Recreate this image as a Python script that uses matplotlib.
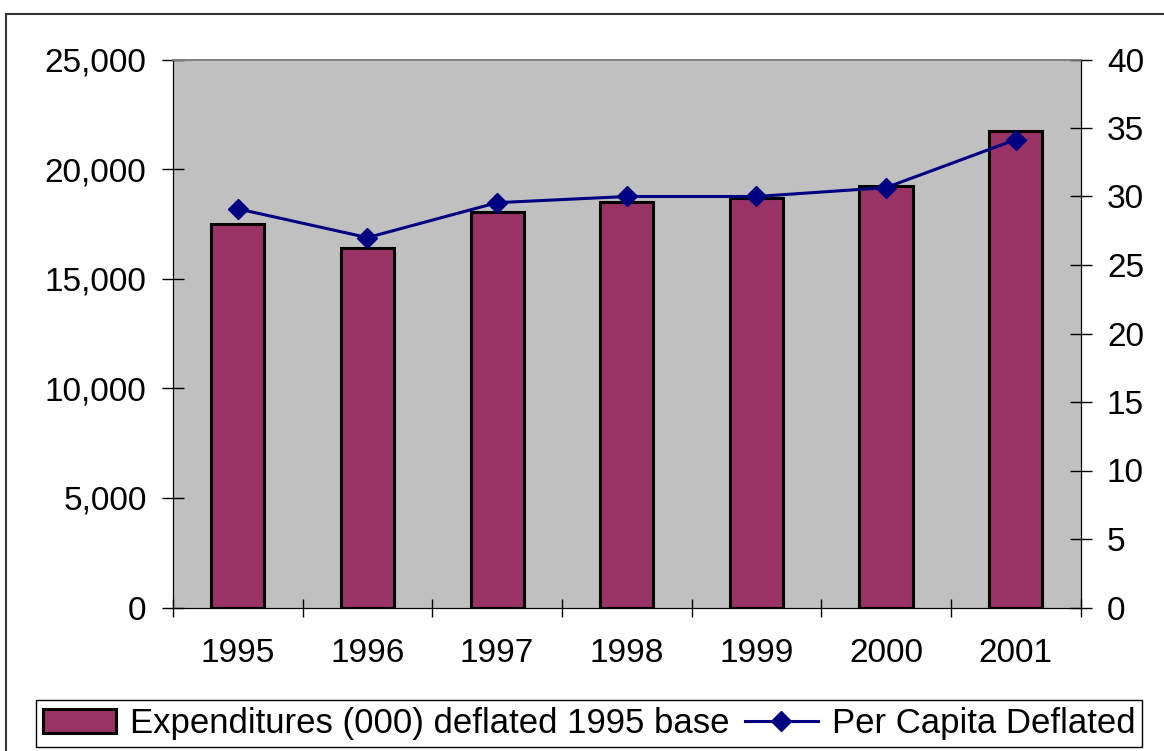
import matplotlib as mpl
import numpy as np
from matplotlib import pyplot as plt
from matplotlib.patches import Rectangle
from matplotlib.ticker import FixedLocator, StrMethodFormatter

years = ['1995', '1996', '1997', '1998', '1999', '2000', '2001']
expenditures = [17500, 16410, 18060, 18490, 18670, 19240, 21740]
per_capita = [29.1, 27.0, 29.55, 30.0, 30.0, 30.65, 34.15]

mpl.rcParams['font.family'] = ['Liberation Sans', 'DejaVu Sans']

fig = plt.figure(figsize=(11.64, 7.51), dpi=100)
ax = fig.add_axes([173/1164, 1 - 607.5/751, (1080.5 - 173)/1164, (607.5 - 59.5)/751])
ax.set_facecolor('#C0C0C0')

x = np.arange(len(years))
bars = ax.bar(x, expenditures, width=0.41, color='#993366', edgecolor='black',
              linewidth=2.2, label='Expenditures (000) deflated 1995 base', zorder=3)
ax.set_xlim(-0.5, len(years) - 0.5)
ax.set_ylim(0, 25000)
ax.set_yticks(np.arange(0, 25001, 5000))
ax.yaxis.set_major_formatter(StrMethodFormatter('{x:,.0f}'))
ax.tick_params(axis='y', direction='inout', length=16, width=1, labelsize=24, pad=11)

# year labels centered, ticks between the categories
ax.set_xticks(x)
ax.set_xticklabels(years)
ax.tick_params(axis='x', which='major', length=0, labelsize=24, pad=22)
ax.xaxis.set_minor_locator(FixedLocator(np.arange(-0.5, len(years), 1.0)))
ax.tick_params(axis='x', which='minor', direction='inout', length=13, width=1)

ax2 = ax.twinx()
line, = ax2.plot(x, per_capita, color='#000080', linewidth=2.2, marker='D',
                 markersize=10, label='Per Capita Deflated', zorder=4)
ax2.set_ylim(0, 40)
ax2.set_yticks(np.arange(0, 41, 5))
ax2.tick_params(axis='y', direction='inout', length=16, width=1, labelsize=24, pad=11)

for a in (ax, ax2):
    a.spines['left'].set_color('black')
    a.spines['right'].set_color('black')
    a.spines['bottom'].set_color('black')
    a.spines['top'].set_color('#808080')
    a.spines['top'].set_linewidth(1.2)

leg = fig.legend(handles=[bars, line], loc='center',
                 bbox_to_anchor=(589/1164, 1 - 723.5/751), ncol=2, fontsize=25,
                 frameon=True, fancybox=False, edgecolor='black', framealpha=1,
                 handlelength=2.1, handletextpad=0.4, columnspacing=0.45,
                 borderpad=0.2, borderaxespad=0)
leg.get_frame().set_linewidth(1)

# outer chart border
fig.patches.append(Rectangle((6/1164, -0.05), 1.2, 1 - 14/751 + 0.05,
                             transform=fig.transFigure, fill=False,
                             edgecolor='#333333', linewidth=1.5))

plt.savefig('out.png', dpi=100)
